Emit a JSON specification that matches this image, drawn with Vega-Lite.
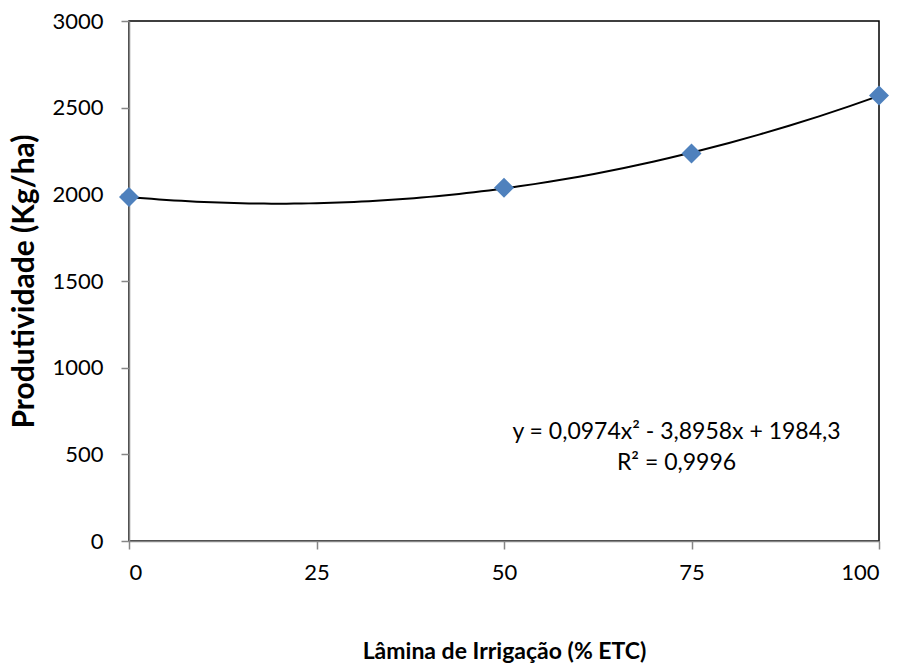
{
  "$schema": "https://vega.github.io/schema/vega-lite/v6.json",
  "width": 750,
  "height": 520,
  "autosize": {"type": "none"},
  "padding": {"left": 129, "top": 21, "right": 23, "bottom": 125},
  "background": "white",
  "config": {
    "view": {"stroke": "black", "strokeWidth": 1.5},
    "font": "Lato",
    "axis": {
      "grid": false,
      "domainColor": "#868686",
      "domainWidth": 1.5,
      "tickColor": "#868686",
      "tickWidth": 1.5,
      "tickSize": 8,
      "labelFont": "Lato",
      "labelFontSize": 22,
      "labelColor": "black",
      "titleFont": "Lato",
      "titleColor": "black",
      "titleFontWeight": "bold"
    }
  },
  "datasets": {
    "pts": [
      {"lamina": 0, "prod": 1984},
      {"lamina": 50, "prod": 2038},
      {"lamina": 75, "prod": 2235},
      {"lamina": 100, "prod": 2570}
    ],
    "eq": [
      {"lamina": 73, "prod": 628, "label": ["y = 0,0974x² - 3,8958x + 1984,3", "R² = 0,9996"]}
    ]
  },
  "layer": [
    {
      "data": {"name": "pts"},
      "transform": [
        {"regression": "prod", "on": "lamina", "method": "poly", "order": 2, "extent": [0, 100]}
      ],
      "mark": {"type": "line", "color": "black", "strokeWidth": 2, "interpolate": "monotone"},
      "encoding": {
        "x": {"field": "lamina", "type": "quantitative"},
        "y": {"field": "prod", "type": "quantitative"}
      }
    },
    {
      "data": {"name": "pts"},
      "mark": {"type": "point", "shape": "diamond", "filled": true, "color": "#4F81BD", "opacity": 1, "size": 400},
      "encoding": {
        "x": {
          "field": "lamina",
          "type": "quantitative",
          "scale": {"domain": [0, 100], "nice": false},
          "axis": {
            "values": [0, 25, 50, 75, 100],
            "format": "d",
            "title": "Lâmina de Irrigação (% ETC)",
            "titleFontSize": 23,
            "titleBaseline": "alphabetic",
            "titleY": 117,
            "labelPadding": 13
          }
        },
        "y": {
          "field": "prod",
          "type": "quantitative",
          "scale": {"domain": [0, 3000], "nice": false},
          "axis": {
            "values": [0, 500, 1000, 1500, 2000, 2500, 3000],
            "format": "d",
            "title": "Produtividade (Kg/ha)",
            "titleFontSize": 30,
            "titleBaseline": "alphabetic",
            "titleX": -96,
            "titleY": 260,
            "labelPadding": 18
          }
        }
      }
    },
    {
      "data": {"name": "eq"},
      "mark": {"type": "text", "fontSize": 23, "font": "Lato", "color": "black", "align": "center", "baseline": "middle", "lineHeight": 31},
      "encoding": {
        "x": {"field": "lamina", "type": "quantitative"},
        "y": {"field": "prod", "type": "quantitative"},
        "text": {"field": "label"}
      }
    }
  ]
}
